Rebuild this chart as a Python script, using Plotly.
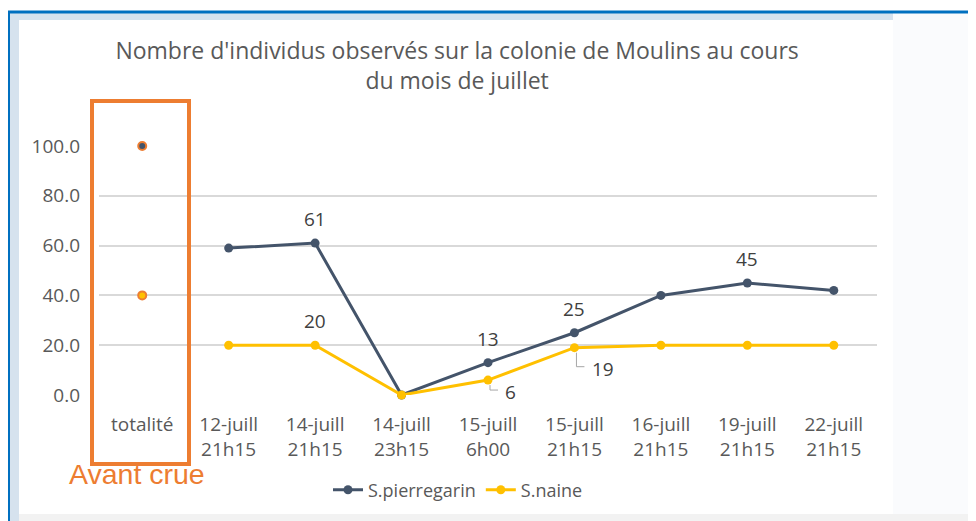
import plotly.graph_objects as go

# dates of observation (first column = count before the flood)
categories = ["totalité", "12-juill<br>21h15", "14-juill<br>21h15", "14-juill<br>23h15",
              "15-juill<br>6h00", "15-juill<br>21h15", "16-juill<br>21h15",
              "19-juill<br>21h15", "22-juill<br>21h15"]
pierregarin = [100, 59, 61, 0, 13, 25, 40, 45, 42]
naine = [40, 20, 20, 0, 6, 19, 20, 20, 20]

# which points get a value label, and where
labels_above_pierre = [2, 4, 5, 7]
labels_above_naine = [2]
labels_below_naine = [4, 5]

NAVY = "#44546A"
GOLD = "#FFC000"
ORANGE = "#ED7D31"
GREY = "#595959"
FONT = "Open Sans, sans-serif"

W, H = 976, 521
OFF = 8  # page body margin, the figure is drawn 8px in from the corner
L, R, T, B = 99 - OFF, 877 - OFF, 146 - OFF, 395 - OFF


# screenshot pixel -> paper coords
def px(x):
    return (x - OFF - L) / (R - L)


def py(y):
    return (B - (y - OFF)) / (B - T)


fig = go.Figure()

# series (totalité kept apart, not joined to the rest)
fig.add_trace(go.Scatter(x=categories[1:], y=pierregarin[1:], name="S.pierregarin",
                         mode="lines+markers", line=dict(color=NAVY, width=3),
                         marker=dict(size=9, color=NAVY), cliponaxis=False))
fig.add_trace(go.Scatter(x=categories[1:], y=naine[1:], name="S.naine",
                         mode="lines+markers", line=dict(color=GOLD, width=3),
                         marker=dict(size=9, color=GOLD), cliponaxis=False))
fig.add_trace(go.Scatter(x=categories[:1], y=pierregarin[:1], mode="markers", showlegend=False,
                         marker=dict(size=8, color=NAVY, line=dict(color=ORANGE, width=2)),
                         cliponaxis=False))
fig.add_trace(go.Scatter(x=categories[:1], y=naine[:1], mode="markers", showlegend=False,
                         marker=dict(size=8, color=GOLD, line=dict(color=ORANGE, width=2)),
                         cliponaxis=False))

LBL = dict(size=19, color="#404040")
annotations = []
for i in labels_above_pierre:
    annotations.append(dict(x=categories[i], y=pierregarin[i], text=str(pierregarin[i]),
                            showarrow=False, yshift=24, font=LBL))
for i in labels_above_naine:
    annotations.append(dict(x=categories[i], y=naine[i], text=str(naine[i]),
                            showarrow=False, yshift=24, font=LBL))

shapes = []
for i in labels_below_naine:
    drop = 10 if naine[i] < 10 else 19
    annotations.append(dict(x=categories[i], y=naine[i], text=str(naine[i]),
                            showarrow=False, xshift=15 + 7 * len(str(naine[i])),
                            yshift=-drop - 2, font=LBL))
    shapes.append(dict(type="path", xref="x", yref="y", xsizemode="pixel", ysizemode="pixel",
                       xanchor=categories[i], yanchor=naine[i],
                       path=f"M 2,-5 V {-drop} H 10", line=dict(color="#A6A6A6", width=1)))

# "Avant crue" highlight
annotations.append(dict(xref="paper", yref="paper", x=px(137), y=py(474), text="Avant crue",
                        xanchor="center", yanchor="middle", showarrow=False,
                        font=dict(family="Liberation Sans, Arial", size=28.5, color=ORANGE)))
shapes.append(dict(type="rect", xref="paper", yref="paper", x0=px(92), x1=px(189),
                   y0=py(464), y1=py(101), line=dict(color=ORANGE, width=4), layer="above"))

# slide background: blue frame, tinted strip, white chart area
shapes = [
    dict(type="rect", xref="paper", yref="paper", x0=px(8), x1=px(990), y0=py(530), y1=py(12),
         fillcolor="#FAFBFD", line=dict(width=0), layer="below"),
    dict(type="rect", xref="paper", yref="paper", x0=px(8), x1=px(893), y0=py(530), y1=py(12),
         fillcolor="#D6E2EE", line=dict(width=0), layer="below"),
    dict(type="rect", xref="paper", yref="paper", x0=px(19), x1=px(893), y0=py(514), y1=py(20),
         fillcolor="white", line=dict(width=0), layer="below"),
    dict(type="rect", xref="paper", yref="paper", x0=px(19), x1=px(990), y0=py(530), y1=py(514),
         fillcolor="#F2F2F2", line=dict(width=0), layer="below"),
    dict(type="line", xref="paper", yref="paper", x0=px(8), x1=px(990), y0=py(12), y1=py(12),
         line=dict(color="#0070C0", width=3)),
    dict(type="line", xref="paper", yref="paper", x0=px(8.5), x1=px(8.5), y0=py(12), y1=py(530),
         line=dict(color="#0070C0", width=3)),
] + shapes

fig.update_layout(
    width=W, height=H,
    margin=dict(l=L, r=W - R, t=T, b=H - B),
    paper_bgcolor="white", plot_bgcolor="rgba(0,0,0,0)",
    font=dict(family=FONT, color=GREY),
    title=dict(text="Nombre d'individus observés sur la colonie de Moulins au cours<br>du mois de juillet",
               x=px(457), xanchor="center", y=py(59) * (B - T) / H + (H - B) / H,
               yanchor="middle", font=dict(size=23, color=GREY)),
    xaxis=dict(type="category", categoryorder="array", categoryarray=categories,
               range=[-0.5, 8.5], showgrid=False, showline=False,
               ticks="", tickfont=dict(size=19, color=GREY), ticklabelstandoff=16,
               fixedrange=True),
    yaxis=dict(range=[0, 100], dtick=20, tickformat=".1f", showgrid=True, gridcolor="#D9D9D9",
               gridwidth=1.5, zeroline=False, showline=False, ticks="",
               tickfont=dict(size=19, color=GREY), ticklabelstandoff=18),
    legend=dict(orientation="h", x=px(458), xanchor="center", y=py(490), yanchor="middle",
                font=dict(size=18, color=GREY), bgcolor="rgba(0,0,0,0)", itemwidth=30),
    annotations=annotations,
    shapes=shapes,
)

fig.write_html("out.html")
